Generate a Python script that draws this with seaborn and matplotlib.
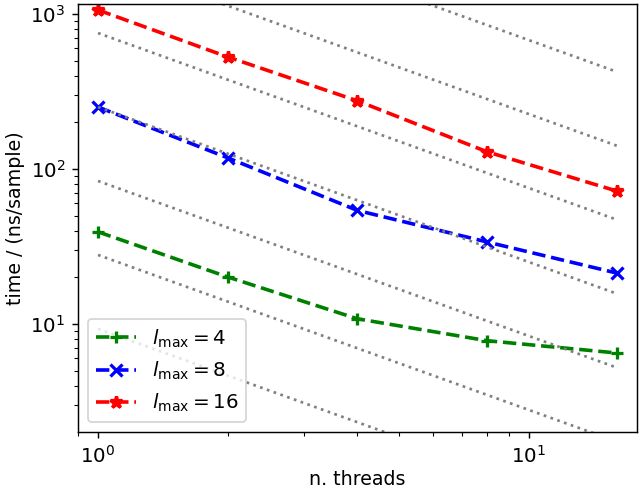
import matplotlib
matplotlib.use("Agg")
import matplotlib.pyplot as plt
import numpy as np
import pandas as pd
import seaborn as sns

# thread counts and timings (ns/sample)
threads = [1, 2, 4, 8, 16]
time_l4 = [39.3, 20.1, 10.8, 7.8, 6.5]
time_l8 = [251, 118, 54, 33.8, 21.3]
time_l16 = [1061, 528, 275, 129, 72]

# ideal-scaling guides: blue t(1) scaled by powers of 3
guide_factors = [3.0 ** k for k in range(-3, 4)]

series = [
    (time_l4, "g", "+", r"$l_{\max} = 4$"),
    (time_l8, "b", "x", r"$l_{\max} = 8$"),
    (time_l16, "r", "*", r"$l_{\max} = 16$"),
]

fig = plt.figure(figsize=(640 / 130, 494 / 130), dpi=130)
ax = fig.add_axes([0.122, 0.1255, 0.873, 0.8665])

for values, color, marker, label in series:
    df = pd.DataFrame({"threads": threads, "time": values})
    sns.lineplot(data=df, x="threads", y="time", ax=ax, color=color,
                 marker=marker, markersize=7, markeredgewidth=1.8,
                 markeredgecolor=color, linestyle="--", linewidth=2,
                 label=label)

thr = np.array(threads, dtype=float)
for f in guide_factors:
    ax.plot(thr, time_l8[0] * f / thr, ":", color="gray", linewidth=1.5)

ax.set_xscale("log")
ax.set_yscale("log")
ax.set_xlim(0.899, 17.8)
ax.set_ylim(2.01, 1160)
ax.set_xlabel("n. threads", fontsize=10.5, labelpad=2)
ax.set_ylabel("time / (ns/sample)", fontsize=10.5, labelpad=3)
ax.tick_params(labelsize=11)
ax.legend(loc="lower left", fontsize=11)

fig.savefig("out.png", dpi=130)
